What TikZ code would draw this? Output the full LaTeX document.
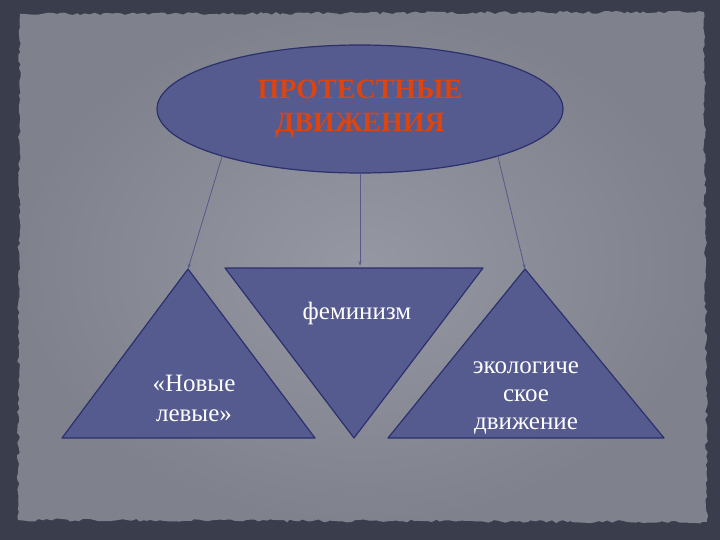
\documentclass[tikz,border=0pt]{standalone}
\usepackage{fontspec}
\setmainfont{Liberation Serif}
\usetikzlibrary{arrows.meta,shapes.geometric,decorations.pathmorphing}

\definecolor{frameDark}{HTML}{3A3E4C}
\definecolor{paperIn}{HTML}{9598A2}
\definecolor{paperOut}{HTML}{7F828D}
\definecolor{shapeFill}{HTML}{555A8F}
\definecolor{shapeLine}{HTML}{2C306C}
\definecolor{titleRed}{HTML}{DC4410}

\begin{document}
\begin{tikzpicture}[x=1pt,y=-1pt,
		tri/.style={fill=shapeFill,draw=shapeLine,line width=1.2pt,line join=round},
		lbl/.style={text=white,align=center,font=\fontsize{25}{28}\selectfont},
		link/.style={draw=shapeLine!80!white,line width=0.8pt,-{Stealth[length=5pt,width=3pt]}}]
		% background and paper
		\fill[frameDark] (0,0) rectangle (720,540);
		\pgfmathsetseed{11}
		\shade[inner color=paperIn,outer color=paperOut,
			decorate,decoration={random steps,segment length=4pt,amplitude=1.5pt}]
			(20,14) -- (704,12) -- (707,522) -- (18,520) -- cycle;
		\useasboundingbox (0,0) rectangle (720,540);
	
		% title ellipse
		\node[ellipse,fill=shapeFill,draw=shapeLine,line width=1.2pt,
			minimum width=406pt,minimum height=128pt,inner sep=0pt,
			text=titleRed,align=center,font=\bfseries\fontsize{28}{33}\selectfont]
			(pm) at (360,109) {ПРОТЕСТНЫЕ\\ДВИЖЕНИЯ};
	
		% triangle corners
		\coordinate (nlTop) at (188,269);
		\coordinate (fmTop) at (360,266);
		\coordinate (ecTop) at (525,269);
		\draw[tri] (nlTop) -- (315,438) -- (62,438) -- cycle;
		\draw[tri] (225,268) -- (483,268) -- (354,438) -- cycle;
		\draw[tri] (ecTop) -- (664,438) -- (388,438) -- cycle;
	
		% labels
		\node[lbl] (fm) at (357,313) {феминизм};
		\node[lbl,font=\fontsize{25}{30}\selectfont] (nl) at (194,398) {«Новые\\левые»};
		\node[lbl] (ec) at (526,398) {экологиче\\ское\\движение};
	
		% connectors
		\draw[link] (pm.199) -- (nlTop);
		\draw[link] (pm.south) -- (fmTop);
		\draw[link] (pm.-19) -- (ecTop);
	\end{tikzpicture}
\end{document}
